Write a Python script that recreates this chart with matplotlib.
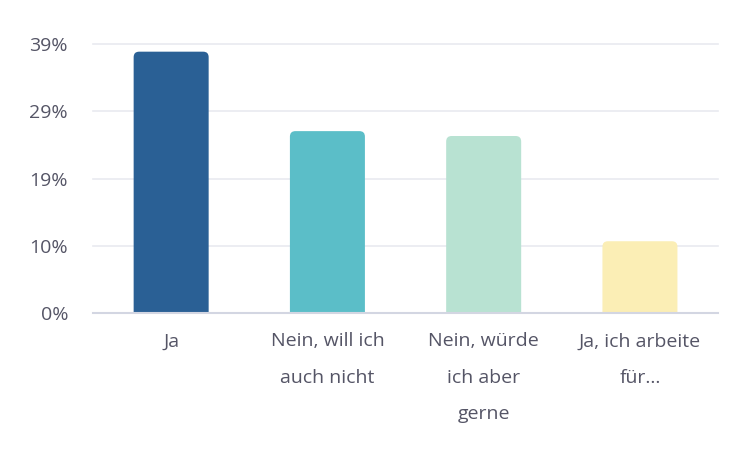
import matplotlib.pyplot as plt
from matplotlib.patches import FancyBboxPatch

# ---------------- DATA ----------------
categories = ["Ja", "Nein, will ich\nauch nicht", "Nein, würde\nich aber\ngerne", "Ja, ich arbeite\nfür..."]
values = [37.5, 26.1, 25.4, 10.3]
colors = ["#2a6095", "#5bbec8", "#b8e2d2", "#fbeeb5"]
y_max = 38.6
tick_values = [0, y_max / 4, y_max / 2, 3 * y_max / 4, y_max]
tick_labels = ["0%", "10%", "19%", "29%", "39%"]
# --------------------------------------

plt.rcParams["font.family"] = ["Open Sans", "DejaVu Sans"]

fig = plt.figure(figsize=(7.29, 4.5), dpi=100)
ax = fig.add_axes([0.1276, 0.3044, 0.8574, 0.5978])

x = list(range(len(categories)))
bar_w = 0.48
bars = ax.bar(x, values, width=bar_w, color=colors, alpha=0)

# rounded top corners (bottom pushed below 0 and clipped)
aspect = (y_max / 269) / (1 / 156.25)
for rect, c in zip(bars, colors):
    x0 = rect.get_x()
    h = rect.get_height()
    patch = FancyBboxPatch((x0, -3), bar_w, h + 3,
                           boxstyle="round,pad=0,rounding_size=0.035",
                           mutation_aspect=aspect, facecolor=c,
                           edgecolor="none", zorder=3)
    ax.add_patch(patch)

ax.set_xlim(-0.5, len(categories) - 0.5)
ax.set_ylim(0, y_max)
ax.set_yticks(tick_values)
ax.set_yticklabels(tick_labels)
ax.set_xticks(x)
ax.set_xticklabels(categories, linespacing=2.3, va="top")

for t in tick_values[1:]:
    ax.axhline(t, color="#e9eaf0", lw=1.2, zorder=1, clip_on=False)

for s in ["top", "right", "left"]:
    ax.spines[s].set_visible(False)
ax.spines["bottom"].set_color("#d3d6e2")
ax.spines["bottom"].set_linewidth(1.5)
ax.spines["bottom"].set_zorder(4)

ax.tick_params(axis="y", length=0, pad=18, labelsize=14, labelcolor="#555566")
ax.tick_params(axis="x", length=0, pad=14, labelsize=14, labelcolor="#555566")

fig.savefig("out.png", dpi=100)
